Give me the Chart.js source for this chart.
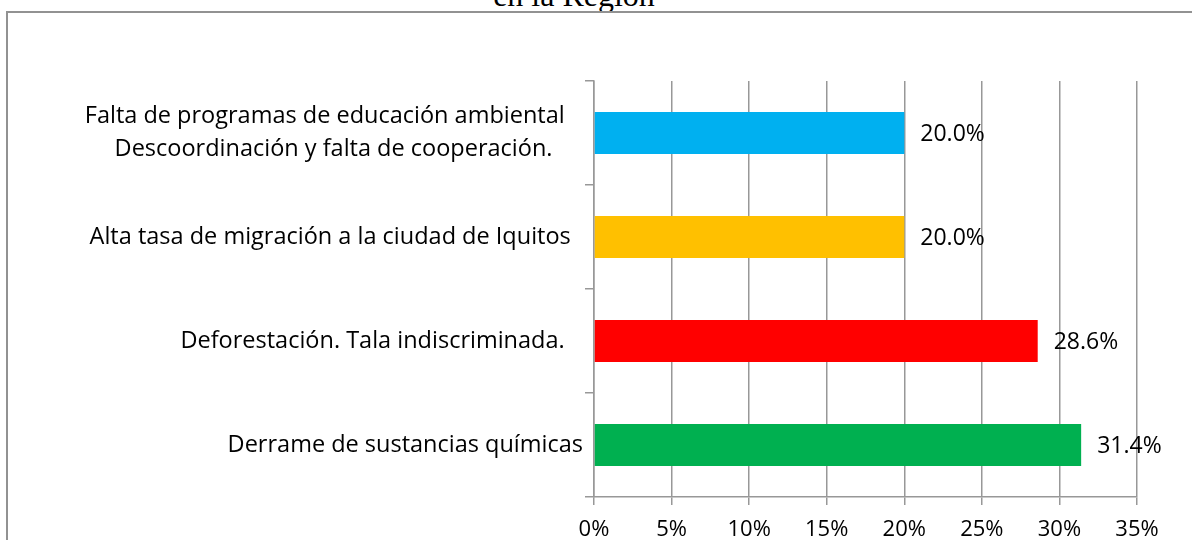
<!DOCTYPE html>
<html>
<head>
<meta charset="utf-8">
<script src="https://cdn.jsdelivr.net/npm/chart.js@4/dist/chart.umd.min.js"></script>
<style>
  html, body { margin: 0; padding: 0; background: #fff; }
  #wrap { position: relative; width: 1192px; height: 540px; overflow: hidden; background: #fff; }
  #title { position: absolute; left: 374px; width: 400px; top: -24px; text-align: center;
           font-family: "Liberation Serif", "Times New Roman", serif; font-size: 32px; line-height: 38px; color: #000; white-space: nowrap; }
  #frame { position: absolute; left: 6px; top: 11px; width: 1400px; height: 800px; border: 2px solid #929292; box-sizing: border-box; }
  canvas { position: absolute; left: 0; top: 0; }
</style>
</head>
<body>
<div id="wrap">
  <div id="title">en la Región</div>
  <div id="frame"></div>
  <canvas id="c" width="1192" height="540"></canvas>
</div>
<script>
const categories = [
  ['Falta de programas de educación ambiental   ', 'Descoordinación y falta de cooperación.     '],
  'Alta tasa de migración a la ciudad de Iquitos  ',
  'Deforestación. Tala indiscriminada.   ',
  'Derrame de sustancias químicas'
];
const values = [20.0, 20.0, 28.6, 31.4];
const barColors = ['#00B0F0', '#FFC000', '#FF0000', '#00B050'];
const tickLabels = ['0%', '5%', '10%', '15%', '20%', '25%', '30%', '35%'];

const FONT = '"Open Sans", Calibri, sans-serif';
const gridColor = '#989898';

const valueLabels = {
  id: 'valueLabels',
  afterDatasetsDraw(chart) {
    const ctx = chart.ctx;
    const meta = chart.getDatasetMeta(0);
    ctx.save();
    ctx.font = '23px ' + FONT;
    ctx.fillStyle = '#000';
    ctx.textAlign = 'left';
    ctx.textBaseline = 'middle';
    meta.data.forEach((bar, i) => {
      ctx.fillText(values[i].toFixed(1) + '%', bar.x + 16, bar.y + 1);
    });
    ctx.restore();
  }
};

new Chart(document.getElementById('c'), {
  type: 'bar',
  data: {
    labels: categories,
    datasets: [{
      data: values,
      backgroundColor: barColors,
      borderWidth: 0,
      categoryPercentage: 1,
      barPercentage: 0.405
    }]
  },
  options: {
    indexAxis: 'y',
    responsive: false,
    animation: false,
    devicePixelRatio: 1,
    layout: { padding: { top: 81, right: 55, left: 0, bottom: 0 } },
    plugins: {
      legend: { display: false },
      tooltip: { enabled: false },
      title: { display: false }
    },
    scales: {
      x: {
        min: 0, max: 35,
        ticks: {
          stepSize: 5,
          color: '#000',
          font: { family: FONT, size: 22 },
          padding: 12,
          callback: (v, i) => tickLabels[i]
        },
        grid: { color: gridColor, lineWidth: 1.5, tickLength: 8, drawTicks: true },
        border: { display: true, color: gridColor, width: 1.5 },
        afterFit(scale) { scale.height = 43; }
      },
      y: {
        ticks: {
          color: '#000',
          font: { family: FONT, size: 23.5, lineHeight: 1.4 },
          padding: 2,
          autoSkip: false
        },
        grid: { drawOnChartArea: false, color: gridColor, lineWidth: 1.5, tickLength: 9, offset: true },
        border: { display: true, color: gridColor, width: 1.5 },
        afterFit(scale) { scale.width = 594; }
      }
    }
  },
  plugins: [valueLabels]
});
</script>
</body>
</html>
